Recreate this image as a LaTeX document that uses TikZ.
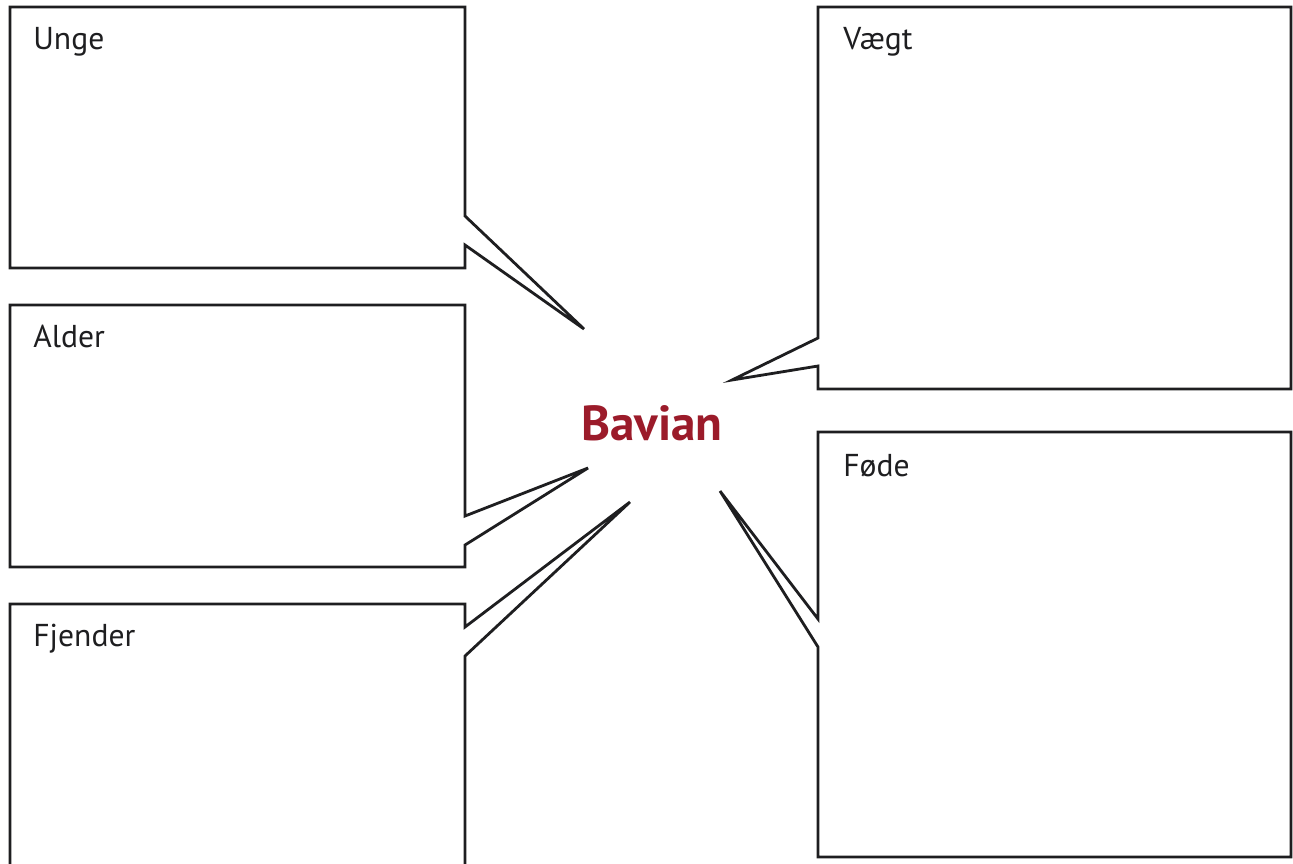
\documentclass[tikz,border=0pt]{standalone}
\usepackage{fontspec}
\setmainfont{PT Sans}
\usetikzlibrary{positioning}
\definecolor{bavianred}{RGB}{155,27,42}
\definecolor{inkgray}{RGB}{30,30,32}
\tikzset{
  box/.style={draw=inkgray, line width=1.6pt, line join=miter},
  lbl/.style={anchor=base west, inner sep=0pt, text=inkgray, font=\fontsize{18}{22}\selectfont},
}

\begin{document}
\begin{tikzpicture}[x=0.02cm, y=-0.02cm]
    \useasboundingbox (0,0) rectangle (1293,863);
    \node[anchor=base, text=bavianred, font=\bfseries\fontsize{28}{33}\selectfont] (bavian) at (652,440) {Bavian};
    % spidsen af hver boble
    \coordinate (tipunge) at (584,329);
    \coordinate (tipalder) at (588,468);
    \coordinate (tipfjender) at (630,502);
    \coordinate (tipvaegt) at (732,380);
    \coordinate (tipfoede) at (720,491);
    % venstre side
    \draw[box] (465,216) -- (tipunge) -- (465,245) |- (10,268) |- (465,7) -- cycle;
    \draw[box] (465,516) -- (tipalder) -- (465,545) |- (10,567) |- (465,305) -- cycle;
    \draw[box] (465,880) -- (465,656) -- (tipfjender) -- (465,627) |- (10,604) -- (10,880);
    % hoejre side
    \draw[box] (818,338) -- (tipvaegt) -- (818,366) |- (1291,389) |- (818,7) -- cycle;
    \draw[box] (818,619) -- (tipfoede) -- (818,647) |- (1291,857) |- (818,432) -- cycle;
    \node[lbl] (unge) at (33,49) {Unge};
    \node[lbl] (alder) at (33,347) {Alder};
    \node[lbl] (fjender) at (33,646) {Fjender};
    \node[lbl] (vaegt) at (843,49) {Vægt};
    \node[lbl] (foede) at (843,476) {Føde};
\end{tikzpicture}
\end{document}
